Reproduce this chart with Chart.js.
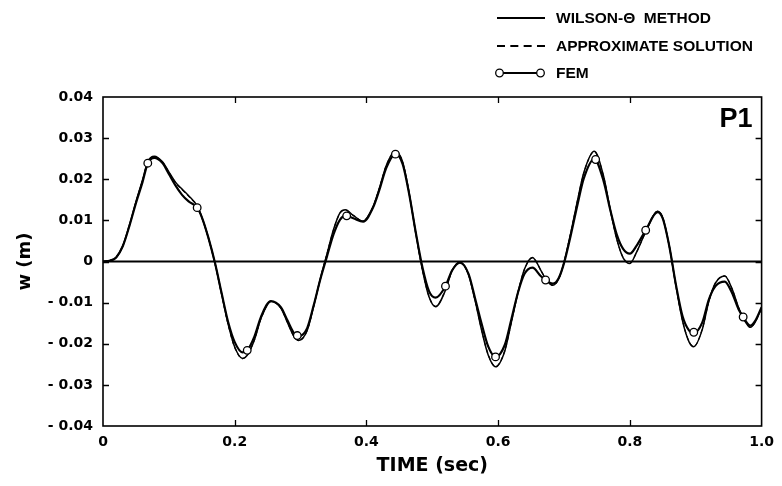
<!DOCTYPE html>
<html>
<head>
<meta charset="utf-8">
<script src="https://cdn.jsdelivr.net/npm/chart.js@4.4.0/dist/chart.umd.min.js"></script>
<style>
html,body{margin:0;padding:0;background:#fff;}
#wrap{position:relative;width:782px;height:486px;overflow:hidden;}
#c{position:absolute;left:0;top:0;}
.row{position:absolute;left:490px;height:20px;display:flex;align-items:center;white-space:pre;
 font:bold 15.5px "Liberation Sans",Arial,sans-serif;color:#000;}
.row svg{display:block;margin-right:6px;}
</style>
</head>
<body>
<div id="wrap">
<canvas id="c" width="782" height="486"></canvas>
<div class="row" style="top:8px"><svg width="60" height="20"><line x1="7" y1="10" x2="55" y2="10" stroke="#000" stroke-width="2"/></svg><span>WILSON-Θ  METHOD</span></div>
<div class="row" style="top:36px"><svg width="60" height="20"><line x1="7" y1="10" x2="55" y2="10" stroke="#000" stroke-width="2" stroke-dasharray="8,5.33"/></svg><span>APPROXIMATE SOLUTION</span></div>
<div class="row" style="top:63px"><svg width="60" height="20"><line x1="13" y1="10" x2="47" y2="10" stroke="#000" stroke-width="2.2"/><circle cx="9.5" cy="10" r="3.8" fill="#fff" stroke="#000" stroke-width="1.3"/><circle cx="50.5" cy="10" r="3.8" fill="#fff" stroke="#000" stroke-width="1.3"/></svg><span>FEM</span></div>
</div>
<script>
// ---- data ----
const time = [0,0.01,0.02,0.03,0.04,0.05,0.06,0.068,0.078,0.09,
 0.10,0.11,0.12,0.13,0.143,0.15,0.16,0.17,0.18,0.19,
 0.20,0.212,0.219,0.23,0.24,0.255,0.27,0.28,0.29,0.297,
 0.31,0.32,0.33,0.34,0.35,0.36,0.368,0.38,0.395,0.41,
 0.42,0.43,0.444,0.455,0.465,0.475,0.485,0.495,0.505,0.52,
 0.53,0.542,0.555,0.565,0.575,0.585,0.596,0.61,0.62,0.63,
 0.64,0.652,0.665,0.672,0.683,0.692,0.70,0.71,0.72,0.73,
 0.746,0.76,0.77,0.78,0.79,0.80,0.81,0.824,0.842,0.85,
 0.86,0.87,0.88,0.89,0.897,0.91,0.92,0.93,0.944,0.955,
 0.965,0.972,0.983,0.99,1.0];

const wilson = [0,0.0002,0.001,0.0038,0.0088,0.0145,0.0198,0.0243,0.0256,0.0243,
 0.0218,0.0193,0.0176,0.0160,0.0135,0.0108,0.0058,-0.0004,-0.0078,-0.0152,
 -0.0208,-0.0236,-0.0228,-0.0190,-0.0138,-0.0097,-0.0113,-0.0148,-0.0182,-0.0192,
 -0.0168,-0.0108,-0.0042,0.0018,0.0078,0.0119,0.0126,0.0112,0.0098,0.0133,
 0.0180,0.0233,0.0268,0.0242,0.0165,0.0068,-0.0020,-0.0086,-0.0110,-0.0070,
 -0.0022,-0.0002,-0.0032,-0.0095,-0.0168,-0.0228,-0.0256,-0.0218,-0.0148,-0.0076,
 -0.0018,0.0010,-0.0022,-0.0042,-0.0058,-0.0042,-0.0002,0.0068,0.0145,0.0216,
 0.0268,0.0208,0.0128,0.0055,0.0008,-0.0005,0.0022,0.0072,0.0122,0.0106,
 0.0036,-0.0060,-0.0145,-0.0196,-0.0207,-0.0165,-0.0096,-0.0052,-0.0035,-0.0066,
 -0.0112,-0.0137,-0.0160,-0.0148,-0.0113];

const approx = [0,0.0002,0.001,0.0038,0.0087,0.0144,0.0197,0.0242,0.0255,0.0242,
 0.0217,0.0192,0.0175,0.0159,0.0134,0.0107,0.0057,-0.0005,-0.0079,-0.0153,
 -0.0209,-0.0236,-0.0228,-0.0190,-0.0138,-0.0097,-0.0113,-0.0148,-0.0182,-0.0192,
 -0.0168,-0.0108,-0.0042,0.0018,0.0077,0.0118,0.0125,0.0112,0.0098,0.0133,
 0.0180,0.0233,0.0267,0.0241,0.0165,0.0068,-0.0020,-0.0085,-0.0109,-0.0069,
 -0.0022,-0.0002,-0.0032,-0.0095,-0.0167,-0.0227,-0.0255,-0.0217,-0.0148,-0.0076,
 -0.0019,0.0009,-0.0022,-0.0042,-0.0058,-0.0042,-0.0002,0.0068,0.0145,0.0215,
 0.0267,0.0207,0.0128,0.0055,0.0009,-0.0004,0.0022,0.0072,0.0122,0.0106,
 0.0036,-0.0060,-0.0144,-0.0195,-0.0206,-0.0164,-0.0096,-0.0052,-0.0035,-0.0066,
 -0.0112,-0.0137,-0.0160,-0.0148,-0.0113];

const fem = [0,0.0002,0.001,0.0037,0.0086,0.0142,0.0193,0.0239,0.0252,0.0240,
 0.0213,0.0185,0.0162,0.0146,0.0131,0.0108,0.0058,-0.0003,-0.0076,-0.0147,
 -0.0196,-0.0221,-0.0216,-0.0182,-0.0134,-0.0096,-0.0111,-0.0143,-0.0174,-0.0182,
 -0.0162,-0.0106,-0.0043,0.0012,0.0066,0.0102,0.0111,0.0105,0.0097,0.0131,
 0.0176,0.0227,0.0261,0.0237,0.0163,0.0070,-0.0014,-0.0072,-0.0088,-0.0060,
 -0.0022,-0.0003,-0.0030,-0.0090,-0.0152,-0.0207,-0.0232,-0.0203,-0.0141,-0.0076,
 -0.0030,-0.0015,-0.0036,-0.0045,-0.0054,-0.0040,-0.0004,0.0062,0.0135,0.0202,
 0.0249,0.0196,0.0127,0.0066,0.0030,0.0019,0.0038,0.0076,0.0120,0.0104,
 0.0036,-0.0057,-0.0133,-0.0168,-0.0174,-0.0148,-0.0092,-0.0060,-0.0049,-0.0076,
 -0.0116,-0.0135,-0.0156,-0.0145,-0.0111];

const femTime  = [0.068,0.143,0.219,0.295,0.370,0.444,0.520,0.596,0.672,0.748,0.824,0.897,0.972];
const femMarks = [0.0239,0.0131,-0.0216,-0.0180,0.0111,0.0261,-0.0060,-0.0232,-0.0045,0.0248,0.0076,-0.0172,-0.0135];

const xTicks = [0,0.2,0.4,0.6,0.8,1.0];
const xTickLabels = ['0','0.2','0.4','0.6','0.8','1.0'];
const yTicks = [-0.04,-0.03,-0.02,-0.01,0,0.01,0.02,0.03,0.04];
const yTickLabels = ['- 0.04','- 0.03','- 0.02','- 0.01','0','0.01','0.02','0.03','0.04'];

// ---- build chart ----
const pts = (xs, ys) => xs.map((x, i) => ({x: x, y: ys[i]}));

const framePlugin = {
  id: 'frame',
  beforeDatasetsDraw(chart) {
    const {ctx, chartArea: a, scales: {x, y}} = chart;
    const y0 = y.getPixelForValue(0);
    ctx.save();
    ctx.strokeStyle = '#000';
    ctx.lineWidth = 2;
    ctx.beginPath();
    ctx.moveTo(a.left, y0);
    ctx.lineTo(a.right, y0);
    ctx.stroke();
    ctx.restore();
  },
  afterDatasetsDraw(chart) {
    const {ctx, chartArea: a, scales: {x, y}} = chart;
    ctx.save();
    ctx.strokeStyle = '#000';
    ctx.lineWidth = 1.6;
    ctx.strokeRect(a.left, a.top, a.right - a.left, a.bottom - a.top);
    ctx.lineWidth = 1.3;
    const tl = 6;
    ctx.beginPath();
    yTicks.forEach(v => {
      if (v <= -0.04 || v >= 0.04) return;
      const p = Math.round(y.getPixelForValue(v)) + 0.5;
      ctx.moveTo(a.left, p); ctx.lineTo(a.left + tl, p);
      ctx.moveTo(a.right, p); ctx.lineTo(a.right - tl, p);
    });
    xTicks.forEach(v => {
      if (v <= 0 || v >= 1) return;
      const p = Math.round(x.getPixelForValue(v)) + 0.5;
      ctx.moveTo(p, a.bottom); ctx.lineTo(p, a.bottom - tl);
      ctx.moveTo(p, a.top); ctx.lineTo(p, a.top + tl);
    });
    ctx.stroke();
    ctx.fillStyle = '#000';
    ctx.font = 'bold 27px "Liberation Sans", Arial, sans-serif';
    ctx.textAlign = 'right';
    ctx.textBaseline = 'alphabetic';
    ctx.fillText('P1', a.right - 9, a.top + 30);
    ctx.restore();
  }
};

const tickFont = {family: '"DejaVu Sans", sans-serif', weight: 'bold', size: 14};
const titleFont = {family: '"DejaVu Sans", sans-serif', weight: 'bold', size: 19};

new Chart(document.getElementById('c'), {
  type: 'line',
  data: {
    datasets: [
      {label: 'FEM', data: pts(time, fem), borderColor: '#000', borderWidth: 2.2,
       pointRadius: 0, fill: false, cubicInterpolationMode: 'monotone', order: 3},
      {label: 'WILSON-Θ METHOD', data: pts(time, wilson), borderColor: '#000', borderWidth: 1.5,
       pointRadius: 0, fill: false, cubicInterpolationMode: 'monotone', order: 2},
      {label: 'APPROXIMATE SOLUTION', data: pts(time, approx), borderColor: '#000', borderWidth: 1.2,
       borderDash: [4, 3], pointRadius: 0, fill: false, cubicInterpolationMode: 'monotone', order: 1},
      {label: 'FEM points', data: pts(femTime, femMarks), showLine: false, pointRadius: 3.8,
       pointBackgroundColor: '#fff', pointBorderColor: '#000', pointBorderWidth: 1.3, order: 0}
    ]
  },
  options: {
    responsive: false,
    animation: false,
    events: [],
    layout: {padding: {top: 97, right: 14, left: 0, bottom: 0}},
    plugins: {legend: {display: false}, tooltip: {enabled: false}},
    scales: {
      x: {
        type: 'linear', min: 0, max: 1,
        afterBuildTicks: s => { s.ticks = xTicks.map(v => ({value: v})); },
        afterFit: s => { s.height = 60; },
        ticks: {font: tickFont, color: '#000', padding: 8, maxRotation: 0,
                callback: (v, i) => xTickLabels[i]},
        grid: {display: false, drawTicks: false},
        border: {display: false},
        title: {display: true, text: 'TIME (sec)', font: titleFont, color: '#000',
                padding: {top: 0, bottom: 9}}
      },
      y: {
        type: 'linear', min: -0.04, max: 0.04,
        afterBuildTicks: s => { s.ticks = yTicks.map(v => ({value: v})); },
        afterFit: s => { s.width = 103; },
        ticks: {font: tickFont, color: '#000', padding: 10,
                callback: (v, i) => yTickLabels[i]},
        grid: {display: false, drawTicks: false},
        border: {display: false},
        title: {display: true, text: 'w (m)', font: {family: '"DejaVu Sans", sans-serif', weight: 'bold', size: 18},
                color: '#000', padding: {top: 15, bottom: 0}}
      }
    }
  },
  plugins: [framePlugin]
});
</script>
</body>
</html>
